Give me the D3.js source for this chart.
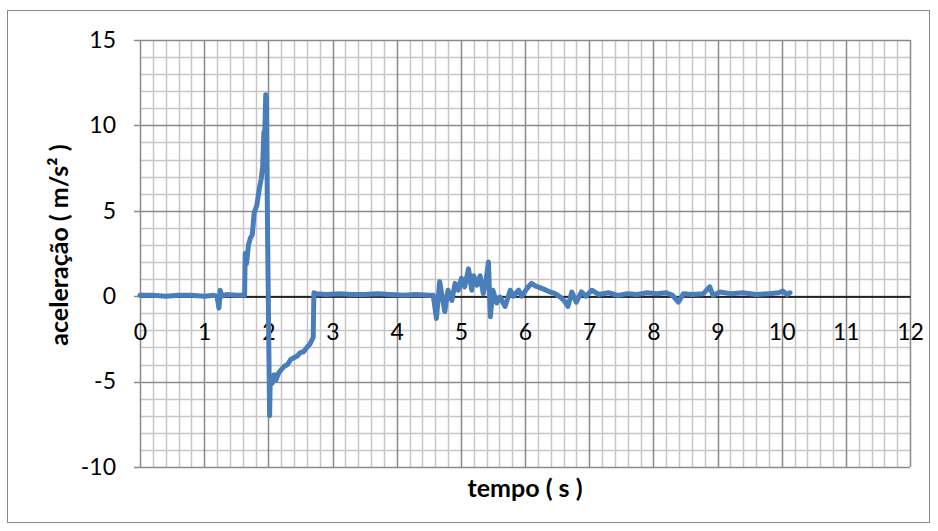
<!DOCTYPE html>
<html>
<head>
<meta charset="utf-8">
<script src="https://cdn.jsdelivr.net/npm/d3@7"></script>
<style>
  body { margin: 0; background: #fff; }
  svg text { font-family: Lato, "Open Sans", sans-serif; }
</style>
</head>
<body>
<div id="chart"></div>
<script>
// readings taken off the plotted trace
let tempo = [0.00, 0.20, 0.40, 0.60, 0.80, 1.00, 1.15, 1.20, 1.23, 1.25, 1.28, 1.35, 1.50, 1.63,
  1.64, 1.66, 1.69, 1.72, 1.75, 1.78, 1.82, 1.86, 1.89, 1.91, 1.93, 1.94, 1.96, 1.97, 1.99,
  2.02, 2.03, 2.06, 2.09, 2.12, 2.16, 2.20, 2.25, 2.30, 2.35, 2.40, 2.45, 2.50, 2.55, 2.60, 2.65, 2.70,
  2.71, 2.75, 2.90, 3.10, 3.30, 3.50, 3.70, 3.90, 4.10, 4.30, 4.50, 4.57,
  4.62, 4.67, 4.75, 4.80, 4.86, 4.91, 4.96, 5.01, 5.06, 5.12, 5.17, 5.20, 5.25, 5.30, 5.35, 5.39,
  5.43, 5.46, 5.50, 5.56, 5.61, 5.69, 5.77, 5.82, 5.90, 5.95, 6.03, 6.10, 6.16, 6.23, 6.30, 6.39,
  6.47, 6.55, 6.62, 6.67, 6.73, 6.80, 6.88, 6.95, 7.04, 7.15, 7.30, 7.45, 7.60, 7.75, 7.90, 8.05,
  8.20, 8.30, 8.39, 8.47, 8.60, 8.78, 8.88, 8.93, 9.04, 9.20, 9.40, 9.60, 9.80, 9.95, 10.02, 10.08, 10.13];
let aceleracao = [0.05, 0.05, 0.0, 0.05, 0.05, 0.0, 0.05, 0.0, -0.7, 0.35, 0.0, 0.1, 0.05, 0.05,
  2.5, 1.9, 3.0, 3.4, 3.6, 4.9, 5.3, 6.3, 6.9, 7.5, 9.6, 9.0, 11.8, 11.5, 3.0,
  -7.0, -4.7, -5.1, -4.6, -4.9, -4.5, -4.3, -4.1, -4.0, -3.7, -3.6, -3.5, -3.3, -3.25, -3.0, -2.8, -2.4,
  0.2, 0.15, 0.1, 0.15, 0.1, 0.1, 0.15, 0.1, 0.05, 0.1, 0.05, 0.05,
  -1.3, 0.85, -0.9, 0.35, -0.25, 0.75, 0.35, 1.05, 0.55, 1.6, 0.35, 1.2, 0.65, 1.2, 0.15, 0.85,
  2.0, -1.2, 0.35, -0.4, -0.05, -0.6, 0.35, 0.0, 0.35, 0.0, 0.45, 0.75, 0.6, 0.5, 0.4, 0.25,
  0.15, -0.05, -0.3, -0.6, 0.25, -0.35, 0.25, 0.0, 0.35, 0.1, 0.2, 0.05, 0.15, 0.1, 0.2, 0.15,
  0.2, 0.05, -0.35, 0.15, 0.1, 0.15, 0.55, 0.05, 0.25, 0.15, 0.2, 0.1, 0.15, 0.2, 0.3, 0.1, 0.2];

let xTicks = [0, 1, 2, 3, 4, 5, 6, 7, 8, 9, 10, 11, 12];
let yTicks = [15, 10, 5, 0, -5, -10];

let width = 938, height = 531;
let plot = { left: 140, right: 910, top: 40, bottom: 467 };

let xScale = d3.scaleLinear().domain([0, 12]).range([plot.left, plot.right]);
let yScale = d3.scaleLinear().domain([-10, 15]).range([plot.bottom, plot.top]);

let svg = d3.select("#chart").append("svg")
  .attr("width", width)
  .attr("height", height);

// chart border
svg.append("rect")
  .attr("x", 7.5).attr("y", 10.5)
  .attr("width", 922).attr("height", 512)
  .attr("fill", "#fff")
  .attr("stroke", "#888").attr("stroke-width", 1);

// minor grid
let grid = svg.append("g");
grid.selectAll(".vminor")
  .data(d3.range(0, 60).map(i => i * 0.2).filter((d, i) => i % 5 != 0))
  .enter().append("line")
  .attr("x1", d => Math.round(xScale(d)) + 0.5).attr("x2", d => Math.round(xScale(d)) + 0.5)
  .attr("y1", plot.top).attr("y2", plot.bottom)
  .attr("stroke", "#c6c6c6").attr("stroke-width", 1.5);
grid.selectAll(".hminor")
  .data(d3.range(-10, 16).filter(d => d % 5 != 0))
  .enter().append("line")
  .attr("x1", plot.left).attr("x2", plot.right)
  .attr("y1", d => Math.round(yScale(d)) + 0.5).attr("y2", d => Math.round(yScale(d)) + 0.5)
  .attr("stroke", "#c6c6c6").attr("stroke-width", 1.5);

// major grid
grid.selectAll(".vmajor")
  .data(xTicks)
  .enter().append("line")
  .attr("x1", d => Math.round(xScale(d)) + 0.5).attr("x2", d => Math.round(xScale(d)) + 0.5)
  .attr("y1", plot.top).attr("y2", plot.bottom)
  .attr("stroke", "#8a8a8a").attr("stroke-width", 1.5);
grid.selectAll(".hmajor")
  .data(yTicks)
  .enter().append("line")
  .attr("x1", plot.left - 6).attr("x2", plot.right)
  .attr("y1", d => Math.round(yScale(d)) + 0.5).attr("y2", d => Math.round(yScale(d)) + 0.5)
  .attr("stroke", "#8a8a8a").attr("stroke-width", 1.5);

// y axis labels (plain hyphen for negatives, like the original)
let yAxis = d3.axisLeft(yScale).tickValues(yTicks).tickSize(0).tickPadding(24)
  .tickFormat(d => String(d));
let yg = svg.append("g").attr("transform", "translate(" + plot.left + ",0)").call(yAxis);
yg.select(".domain").remove();
yg.selectAll("text").attr("font-size", 23).attr("fill", "#000")
  .style("font-family", "Lato, 'Open Sans', sans-serif");

// x axis on the zero line
let xAxis = d3.axisBottom(xScale).tickValues(xTicks).tickSize(0).tickPadding(27)
  .tickFormat(d => String(d));
let xg = svg.append("g").attr("transform", "translate(0," + (Math.round(yScale(0)) + 0.5) + ")").call(xAxis);
xg.select(".domain").attr("stroke", "#000").attr("stroke-width", 1.5);
xg.selectAll("text").attr("font-size", 23).attr("fill", "#000")
  .style("font-family", "Lato, 'Open Sans', sans-serif");

// series
let points = tempo.map((t, i) => [t, aceleracao[i]]);
svg.append("path")
  .datum(points)
  .attr("d", d3.line().x(d => xScale(d[0])).y(d => yScale(d[1])))
  .attr("fill", "none")
  .attr("stroke", "#4a7ebb")
  .attr("stroke-width", 5)
  .attr("stroke-linejoin", "round")
  .attr("stroke-linecap", "round");

// axis titles
svg.append("text")
  .attr("x", (plot.left + plot.right) / 2).attr("y", 497)
  .attr("text-anchor", "middle")
  .attr("font-size", 25).attr("font-weight", "bold")
  .text("tempo ( s )");

svg.append("text")
  .attr("transform", "translate(68,245) rotate(-90)")
  .attr("text-anchor", "middle")
  .attr("font-size", 25).attr("font-weight", "bold")
  .text("aceleração ( m/s² )");
</script>
</body>
</html>
